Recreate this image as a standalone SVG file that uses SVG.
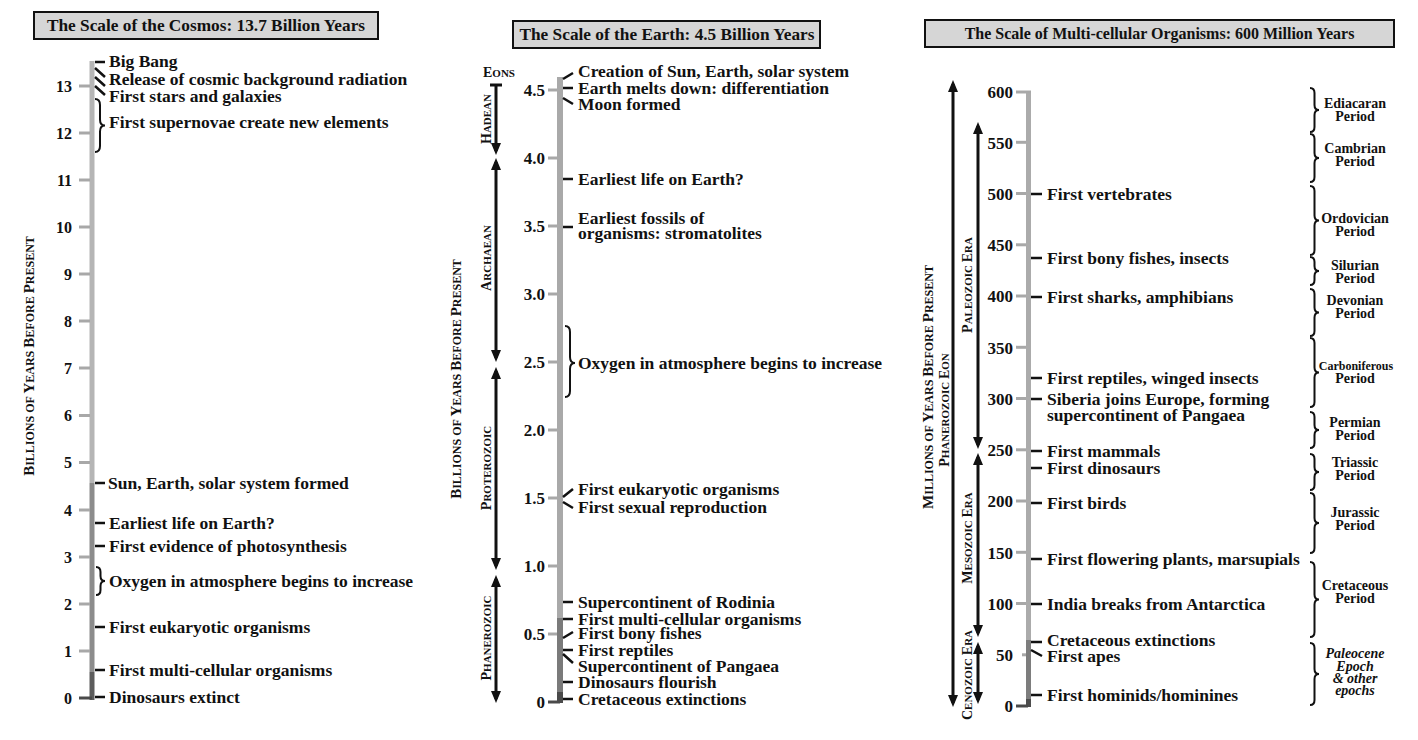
<svg xmlns="http://www.w3.org/2000/svg" width="1418" height="740" viewBox="0 0 1418 740">
<style>
text{font-family:"Liberation Serif","Times New Roman",serif;font-weight:bold;fill:#111}
.ev{font-size:17.5px}
.num{font-size:17px;text-anchor:end}
.numL{font-size:16px;text-anchor:end}
.ttl{font-size:17.3px;text-anchor:middle}
.ttlR{font-size:16px;text-anchor:middle}
.box{fill:#d6d6d6;stroke:#111;stroke-width:2}
.gt{stroke:#a8a8a8;stroke-width:3}
.zt{stroke:#4a4a4a;stroke-width:3}
.et{stroke:#111;stroke-width:2.5;fill:none}
.br{stroke:#111;stroke-width:2;fill:none}
.ar{stroke:#111;stroke-width:3;fill:none;marker-start:url(#ah);marker-end:url(#ah)}
.per{font-size:14px;text-anchor:middle}
.it{font-style:italic}
.sc{text-anchor:middle}
.C{font-size:14px}.s{font-size:11px}
.C2{font-size:15px}.s2{font-size:12px}
</style>
<defs>
<marker id="ah" viewBox="0 0 12 10" refX="8" refY="5" markerWidth="12" markerHeight="10" markerUnits="userSpaceOnUse" orient="auto-start-reverse"><path d="M0,0 L12,5 L0,10 Z" fill="#111"/></marker>
</defs>

<!-- ================= LEFT PANEL ================= -->
<g id="title-cosmos"><rect class="box" x="34" y="12" width="344" height="27"/><text class="ttl" x="206" y="31">The Scale of the Cosmos: 13.7 Billion Years</text></g>
<g id="axis-cosmos">
<rect x="89.5" y="61" width="5" height="422" fill="#b5b5b5"/>
<rect x="89.5" y="483" width="5" height="189" fill="#8c8c8c"/>
<rect x="89.5" y="672" width="5" height="28" fill="#5c5c5c"/>
<g class="gt">
<line x1="79" y1="86" x2="90" y2="86"/><line x1="79" y1="133" x2="90" y2="133"/><line x1="79" y1="180" x2="90" y2="180"/><line x1="79" y1="227" x2="90" y2="227"/><line x1="79" y1="274" x2="90" y2="274"/><line x1="79" y1="321" x2="90" y2="321"/><line x1="79" y1="368" x2="90" y2="368"/><line x1="79" y1="415.5" x2="90" y2="415.5"/><line x1="79" y1="462.5" x2="90" y2="462.5"/><line x1="79" y1="510" x2="90" y2="510"/><line x1="79" y1="557" x2="90" y2="557"/><line x1="79" y1="604" x2="90" y2="604"/><line x1="79" y1="651" x2="90" y2="651"/>
</g>
<line class="zt" x1="79" y1="698" x2="92" y2="698"/>
<text class="numL" x="72" y="91.5">13</text><text class="numL" x="72" y="138.5">12</text><text class="numL" x="72" y="185.5">11</text><text class="numL" x="72" y="232.5">10</text><text class="numL" x="72" y="279.5">9</text><text class="numL" x="72" y="326.5">8</text><text class="numL" x="72" y="373.5">7</text><text class="numL" x="72" y="421">6</text><text class="numL" x="72" y="468">5</text><text class="numL" x="72" y="515.5">4</text><text class="numL" x="72" y="562.5">3</text><text class="numL" x="72" y="609.5">2</text><text class="numL" x="72" y="656.5">1</text><text class="numL" x="72" y="703.5">0</text>
</g>
<g id="axis-label-cosmos"><text class="sc" transform="translate(34,356) rotate(-90)"><tspan class="C2">B</tspan><tspan class="s2">ILLIONS OF </tspan><tspan class="C2">Y</tspan><tspan class="s2">EARS </tspan><tspan class="C2">B</tspan><tspan class="s2">EFORE </tspan><tspan class="C2">P</tspan><tspan class="s2">RESENT</tspan></text></g>
<g id="ev-bigbang"><text class="ev" x="109" y="67">Big Bang</text></g>
<g id="ev-cmb"><text class="ev" x="109" y="85">Release of cosmic background radiation</text></g>
<g id="ev-firststars"><text class="ev" x="109" y="101.5">First stars and galaxies</text></g>
<g id="ev-supernovae"><text class="ev" x="109" y="128">First supernovae create new elements</text></g>
<g id="ev-sun"><text class="ev" x="108" y="488.5">Sun, Earth, solar system formed</text></g>
<g id="ev-life-c"><text class="ev" x="109" y="528.5">Earliest life on Earth?</text></g>
<g id="ev-photo"><text class="ev" x="109" y="551.5">First evidence of photosynthesis</text></g>
<g id="ev-oxygen-c"><text class="ev" x="109" y="587">Oxygen in atmosphere begins to increase</text></g>
<g id="ev-euk-c"><text class="ev" x="109" y="632.5">First eukaryotic organisms</text></g>
<g id="ev-multi-c"><text class="ev" x="109" y="675.5">First multi-cellular organisms</text></g>
<g id="ev-dino-c"><text class="ev" x="109" y="702.5">Dinosaurs extinct</text></g>

<!-- ================= MIDDLE PANEL ================= -->
<g id="title-earth"><rect class="box" x="513" y="21" width="307" height="27"/><text class="ttl" x="667" y="40">The Scale of the Earth: 4.5 Billion Years</text></g>
<g id="axis-earth">
<rect x="557" y="77" width="6" height="541" fill="#a9a9a9"/>
<rect x="557" y="618" width="6" height="74" fill="#7a7a7a"/>
<rect x="557" y="692" width="6" height="11" fill="#4a4a4a"/>
<g class="gt">
<line x1="548" y1="90" x2="557" y2="90"/><line x1="548" y1="158" x2="557" y2="158"/><line x1="548" y1="226" x2="557" y2="226"/><line x1="548" y1="294" x2="557" y2="294"/><line x1="548" y1="362" x2="557" y2="362"/><line x1="548" y1="430" x2="557" y2="430"/><line x1="548" y1="498" x2="557" y2="498"/><line x1="548" y1="566" x2="557" y2="566"/><line x1="548" y1="634" x2="557" y2="634"/>
</g>
<line class="zt" x1="548" y1="702" x2="560" y2="702"/>
<text class="num" x="545" y="96">4.5</text><text class="num" x="545" y="164">4.0</text><text class="num" x="545" y="232">3.5</text><text class="num" x="545" y="300">3.0</text><text class="num" x="545" y="368">2.5</text><text class="num" x="545" y="436">2.0</text><text class="num" x="545" y="504">1.5</text><text class="num" x="545" y="572">1.0</text><text class="num" x="545" y="640">0.5</text><text class="num" x="545" y="708">0</text>
</g>
<g id="axis-label-earth"><text class="sc" transform="translate(461,379) rotate(-90)"><tspan class="C2">B</tspan><tspan class="s2">ILLIONS OF </tspan><tspan class="C2">Y</tspan><tspan class="s2">EARS </tspan><tspan class="C2">B</tspan><tspan class="s2">EFORE </tspan><tspan class="C2">P</tspan><tspan class="s2">RESENT</tspan></text></g>
<g id="eons-head"><text x="483" y="77"><tspan class="C">E</tspan><tspan class="s">ONS</tspan></text></g>
<g id="eon-hadean"><text class="sc" transform="translate(491,119) rotate(-90)"><tspan class="C">H</tspan><tspan class="s">ADEAN</tspan></text></g>
<g id="eon-archaean"><text class="sc" transform="translate(491,258) rotate(-90)"><tspan class="C">A</tspan><tspan class="s">RCHAEAN</tspan></text></g>
<g id="eon-proterozoic"><text class="sc" transform="translate(491,468) rotate(-90)"><tspan class="C">P</tspan><tspan class="s">ROTEROZOIC</tspan></text></g>
<g id="eon-phanerozoic"><text class="sc" transform="translate(491,638) rotate(-90)"><tspan class="C">P</tspan><tspan class="s">HANEROZOIC</tspan></text></g>
<g id="ev-creation"><text class="ev" x="578" y="77">Creation of Sun, Earth, solar system</text></g>
<g id="ev-melt"><text class="ev" x="578" y="93.5">Earth melts down: differentiation</text></g>
<g id="ev-moon"><text class="ev" x="578" y="109.5">Moon formed</text></g>
<g id="ev-life-e"><text class="ev" x="578" y="184.5">Earliest life on Earth?</text></g>
<g id="ev-fossils"><text class="ev" x="578" y="223.5">Earliest fossils of</text><text class="ev" x="578" y="238.5">organisms: stromatolites</text></g>
<g id="ev-oxygen-e"><text class="ev" x="578" y="368.5">Oxygen in atmosphere begins to increase</text></g>
<g id="ev-euk-e"><text class="ev" x="578" y="494.5">First eukaryotic organisms</text></g>
<g id="ev-sex"><text class="ev" x="578" y="512.5">First sexual reproduction</text></g>
<g id="ev-rodinia"><text class="ev" x="578" y="607.5">Supercontinent of Rodinia</text></g>
<g id="ev-multi-e"><text class="ev" x="578" y="624.5">First multi-cellular organisms</text></g>
<g id="ev-bony-e"><text class="ev" x="578" y="639">First bony fishes</text></g>
<g id="ev-reptiles-e"><text class="ev" x="578" y="655.5">First reptiles</text></g>
<g id="ev-pangaea-e"><text class="ev" x="578" y="671.5">Supercontinent of Pangaea</text></g>
<g id="ev-dinoflour"><text class="ev" x="578" y="687.5">Dinosaurs flourish</text></g>
<g id="ev-cret-e"><text class="ev" x="578" y="704.5">Cretaceous extinctions</text></g>

<!-- ================= RIGHT PANEL ================= -->
<g id="title-multi"><rect class="box" x="925" y="20" width="469" height="27"/><text class="ttlR" x="1159.5" y="39">The Scale of Multi-cellular Organisms: 600 Million Years</text></g>
<g id="axis-multi">
<rect x="1026" y="91" width="5" height="549" fill="#ababab"/>
<rect x="1026" y="640" width="5" height="59" fill="#7d7d7d"/>
<rect x="1026" y="699" width="5" height="8" fill="#4d4d4d"/>
<g class="gt">
<line x1="1016" y1="92" x2="1031" y2="92"/><line x1="1016" y1="142.3" x2="1026" y2="142.3"/><line x1="1016" y1="193.5" x2="1026" y2="193.5"/><line x1="1016" y1="244.8" x2="1026" y2="244.8"/><line x1="1016" y1="296" x2="1026" y2="296"/><line x1="1016" y1="347.3" x2="1026" y2="347.3"/><line x1="1016" y1="398.5" x2="1026" y2="398.5"/><line x1="1016" y1="449.8" x2="1026" y2="449.8"/><line x1="1016" y1="501" x2="1026" y2="501"/><line x1="1016" y1="552.3" x2="1026" y2="552.3"/><line x1="1016" y1="603.5" x2="1026" y2="603.5"/><line x1="1022" y1="654.8" x2="1026" y2="654.8"/>
</g>
<line class="zt" x1="1016" y1="706" x2="1028" y2="706"/>
<text class="num" x="1013" y="97.5">600</text><text class="num" x="1013" y="148.5">550</text><text class="num" x="1013" y="199.5">500</text><text class="num" x="1013" y="251">450</text><text class="num" x="1013" y="302">400</text><text class="num" x="1013" y="353.5">350</text><text class="num" x="1013" y="404.5">300</text><text class="num" x="1013" y="456">250</text><text class="num" x="1013" y="507">200</text><text class="num" x="1013" y="558.5">150</text><text class="num" x="1013" y="609.5">100</text><text class="num" x="1013" y="661">50</text><text class="num" x="1013" y="712">0</text>
</g>
<g id="axis-label-multi"><text class="sc" transform="translate(933,387) rotate(-90)"><tspan class="C2">M</tspan><tspan class="s2">ILLIONS OF </tspan><tspan class="C2">Y</tspan><tspan class="s2">EARS </tspan><tspan class="C2">B</tspan><tspan class="s2">EFORE </tspan><tspan class="C2">P</tspan><tspan class="s2">RESENT</tspan></text></g>
<g id="eon-phanerozoic-r"><text class="sc" transform="translate(949,410) rotate(-90)"><tspan class="C">P</tspan><tspan class="s">HANEROZOIC </tspan><tspan class="C">E</tspan><tspan class="s">ON</tspan></text></g>
<g id="era-paleozoic"><text class="sc" transform="translate(972,285) rotate(-90)"><tspan class="C">P</tspan><tspan class="s">ALEOZOIC </tspan><tspan class="C">E</tspan><tspan class="s">RA</tspan></text></g>
<g id="era-mesozoic"><text class="sc" transform="translate(972,538) rotate(-90)"><tspan class="C">M</tspan><tspan class="s">ESOZOIC </tspan><tspan class="C">E</tspan><tspan class="s">RA</tspan></text></g>
<g id="era-cenozoic"><text class="sc" transform="translate(972,675) rotate(-90)"><tspan class="C">C</tspan><tspan class="s">ENOZOIC </tspan><tspan class="C">E</tspan><tspan class="s">RA</tspan></text></g>
<g id="ev-vert"><text class="ev" x="1047" y="200">First vertebrates</text></g>
<g id="ev-bony-r"><text class="ev" x="1047" y="263.5">First bony fishes, insects</text></g>
<g id="ev-sharks"><text class="ev" x="1047" y="302.5">First sharks, amphibians</text></g>
<g id="ev-reptiles-r"><text class="ev" x="1047" y="384">First reptiles, winged insects</text></g>
<g id="ev-siberia"><text class="ev" x="1047" y="404.5">Siberia joins Europe, forming</text><text class="ev" x="1047" y="421">supercontinent of Pangaea</text></g>
<g id="ev-mammals"><text class="ev" x="1047" y="456.5">First mammals</text></g>
<g id="ev-dinos-r"><text class="ev" x="1047" y="473.5">First dinosaurs</text></g>
<g id="ev-birds"><text class="ev" x="1047" y="508.5">First birds</text></g>
<g id="ev-flowers"><text class="ev" x="1047" y="564.5">First flowering plants, marsupials</text></g>
<g id="ev-india"><text class="ev" x="1047" y="609.5">India breaks from Antarctica</text></g>
<g id="ev-cret-r"><text class="ev" x="1047" y="646">Cretaceous extinctions</text></g>
<g id="ev-apes"><text class="ev" x="1047" y="662">First apes</text></g>
<g id="ev-hominids"><text class="ev" x="1047" y="700.5">First hominids/hominines</text></g>
<g id="per-ediacaran"><text class="per" x="1355" y="108">Ediacaran</text><text class="per" x="1355" y="121">Period</text></g>
<g id="per-cambrian"><text class="per" x="1355" y="153">Cambrian</text><text class="per" x="1355" y="166">Period</text></g>
<g id="per-ordovician"><text class="per" x="1355" y="223">Ordovician</text><text class="per" x="1355" y="236">Period</text></g>
<g id="per-silurian"><text class="per" x="1355" y="270">Silurian</text><text class="per" x="1355" y="283">Period</text></g>
<g id="per-devonian"><text class="per" x="1355" y="305">Devonian</text><text class="per" x="1355" y="318">Period</text></g>
<g id="per-carboniferous"><text class="per" x="1356" y="370" style="font-size:12px">Carboniferous</text><text class="per" x="1355" y="383">Period</text></g>
<g id="per-permian"><text class="per" x="1355" y="427">Permian</text><text class="per" x="1355" y="440">Period</text></g>
<g id="per-triassic"><text class="per" x="1355" y="467">Triassic</text><text class="per" x="1355" y="480">Period</text></g>
<g id="per-jurassic"><text class="per" x="1355" y="517">Jurassic</text><text class="per" x="1355" y="530">Period</text></g>
<g id="per-cretaceous"><text class="per" x="1355" y="590">Cretaceous</text><text class="per" x="1355" y="603">Period</text></g>
<g id="per-paleocene"><text class="per it" x="1355" y="658">Paleocene</text><text class="per it" x="1355" y="670.5">Epoch</text><text class="per it" x="1355" y="683">&amp; other</text><text class="per it" x="1355" y="695">epochs</text></g>

<!-- ================= CONNECTORS ================= -->
<g id="connectors">
<g class="et">
<path d="M95 62H105M95 68L105 77M95 77L105 86M95 86L105 95"/>
<path d="M95 483H105M95 523H105M95 546H105M95 627H105M95 670H105M95 697H105"/>
<path d="M563 79L573 73M563 88H573M563 98L573 104M563 179H573M563 227H573"/>
<path d="M563 497L573 489M563 502L573 508M563 602H573M563 619H573M563 638L573 632M563 650H573M563 654L573 663M563 682H573M563 699H573"/>
<path d="M1031 194H1042M1031 258H1042M1031 297H1042M1031 378H1042M1031 399H1042M1031 451H1042M1031 468H1042M1031 503H1042M1031 559H1042M1031 604H1042M1031 642H1042M1031 650L1042 656M1031 695H1042"/>
</g>
<g class="br">
<path d="M95 99Q100 99 100 105L100 119.5Q100 125.5 105 125.5Q100 125.5 100 131.5L100 146Q100 152 95 152"/>
<path d="M96 567Q100.5 567 100.5 572L100.5 576Q100.5 581 105 581Q100.5 581 100.5 586L100.5 590Q100.5 595 96 595"/>
<path d="M565 326Q570 326 570 332L570 357Q570 363 575 363Q570 363 570 369L570 391Q570 397 565 397"/>
<path d="M1310 88Q1314.5 88 1314.5 93L1314.5 105Q1314.5 110 1319 110Q1314.5 110 1314.5 115L1314.5 127Q1314.5 132 1310 132"/>
<path d="M1310 134Q1314.5 134 1314.5 139L1314.5 153Q1314.5 158 1319 158Q1314.5 158 1314.5 163L1314.5 177Q1314.5 182 1310 182"/>
<path d="M1310 186Q1314.5 186 1314.5 191L1314.5 215.5Q1314.5 220.5 1319 220.5Q1314.5 220.5 1314.5 225.5L1314.5 250Q1314.5 255 1310 255"/>
<path d="M1310 257Q1314.5 257 1314.5 262L1314.5 266Q1314.5 271 1319 271Q1314.5 271 1314.5 276L1314.5 280Q1314.5 285 1310 285"/>
<path d="M1310 289Q1314.5 289 1314.5 294L1314.5 307.5Q1314.5 312.5 1319 312.5Q1314.5 312.5 1314.5 317.5L1314.5 331Q1314.5 336 1310 336"/>
<path d="M1310 338Q1314.5 338 1314.5 343L1314.5 367.5Q1314.5 372.5 1319 372.5Q1314.5 372.5 1314.5 377.5L1314.5 402Q1314.5 407 1310 407"/>
<path d="M1310 412Q1314.5 412 1314.5 417L1314.5 425Q1314.5 430 1319 430Q1314.5 430 1314.5 435L1314.5 443Q1314.5 448 1310 448"/>
<path d="M1310 454Q1314.5 454 1314.5 459L1314.5 467Q1314.5 472 1319 472Q1314.5 472 1314.5 477L1314.5 485Q1314.5 490 1310 490"/>
<path d="M1310 493Q1314.5 493 1314.5 498L1314.5 518Q1314.5 523 1319 523Q1314.5 523 1314.5 528L1314.5 548Q1314.5 553 1310 553"/>
<path d="M1310 562Q1314.5 562 1314.5 567L1314.5 594.5Q1314.5 599.5 1319 599.5Q1314.5 599.5 1314.5 604.5L1314.5 632Q1314.5 637 1310 637"/>
<path d="M1310 643Q1314.5 643 1314.5 648L1314.5 669Q1314.5 674 1319 674Q1314.5 674 1314.5 679L1314.5 700Q1314.5 705 1310 705"/>
</g>
<line x1="490" y1="85" x2="502" y2="85" stroke="#111" stroke-width="3"/>
<line x1="496" y1="85" x2="496" y2="151" stroke="#111" stroke-width="3" marker-end="url(#ah)"/>
<line class="ar" x1="496" y1="162" x2="496" y2="358"/>
<line class="ar" x1="496" y1="371" x2="496" y2="566"/>
<line class="ar" x1="496" y1="579" x2="496" y2="699"/>
<line class="ar" x1="953" y1="84" x2="953" y2="703"/>
<line class="ar" x1="978" y1="126" x2="978" y2="445"/>
<line class="ar" x1="978" y1="457" x2="978" y2="633"/>
<line class="ar" x1="978" y1="646" x2="978" y2="700"/>
</g>
</svg>
